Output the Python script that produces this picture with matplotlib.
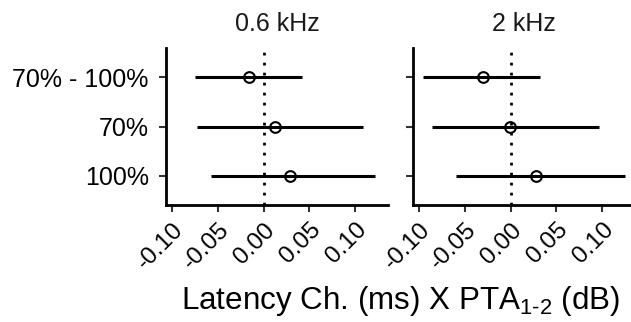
import matplotlib
matplotlib.use('Agg')
import matplotlib.pyplot as plt

plt.rcParams['font.family'] = ['Liberation Sans', 'DejaVu Sans']
plt.rcParams['mathtext.fontset'] = 'custom'
plt.rcParams['mathtext.rm'] = 'Liberation Sans'
plt.rcParams['mathtext.default'] = 'regular'

# Data (bottom to top)
categories = ['100%', '70%', '70% - 100%']
panels = ['0.6 kHz', '2 kHz']
est_06 = [0.0291, 0.0130, -0.0162]
lo_06 = [-0.0572, -0.0724, -0.0745]
hi_06 = [0.121, 0.108, 0.0421]
est_2 = [0.0282, -0.001, -0.0304]
lo_2 = [-0.0597, -0.0857, -0.0954]
hi_2 = [0.1247, 0.0965, 0.0325]
xticks = [-0.10, -0.05, 0.00, 0.05, 0.10]
xticklabels = ['-0.10', '-0.05', '0.00', '0.05', '0.10']
xlabel = r'Latency Ch. (ms) X PTA$_{\text{1-2}}$ (dB)'

W, H = 631, 322
fig = plt.figure(figsize=(W / 100, H / 100), dpi=100)

ax_specs = [(166, 48, 222, 157), (413, 48, 222, 157)]
data = [(est_06, lo_06, hi_06), (est_2, lo_2, hi_2)]
ypos = list(range(1, len(categories) + 1))

for i, ((l, t, w, h), (est, lo, hi), title) in enumerate(zip(ax_specs, data, panels)):
    ax = fig.add_axes([l / W, (H - t - h) / H, w / W, h / H])
    ax.axvline(0, color='black', lw=2, ls=(0, (1, 2.6)), zorder=1)
    ax.hlines(ypos, lo, hi, color='black', lw=2.2, zorder=2)
    ax.plot(est, ypos, 'o', mfc='none', mec='black', ms=7.7, mew=1.5, zorder=3)
    ax.set_xlim(-0.1064, 0.1357)
    ax.set_ylim(0.4, len(categories) + 0.6)
    for s in ['top', 'right']:
        ax.spines[s].set_visible(False)
    for s in ['left', 'bottom']:
        ax.spines[s].set_linewidth(2.0)
        ax.spines[s].set_color('black')
    ax.set_yticks(ypos)
    if i == 0:
        ax.set_yticklabels(categories, fontsize=18, color='black')
    else:
        ax.set_yticklabels([])
    ax.set_xticks(xticks)
    ax.set_xticklabels(xticklabels, fontsize=17.5, rotation=45, ha='right',
                       va='top', rotation_mode='anchor', color='black')
    ax.tick_params(axis='both', direction='out', length=5, width=1.5,
                   color='#333333')
    ax.tick_params(axis='y', pad=7.5)
    ax.tick_params(axis='x', pad=5)
    ax.set_title(title, fontsize=18, color='#1a1a1a', pad=12)

fig.text(401 / W, (H - 309) / H, xlabel, fontsize=22.6, ha='center',
         va='baseline', color='black')

fig.savefig('out.png', dpi=100)
